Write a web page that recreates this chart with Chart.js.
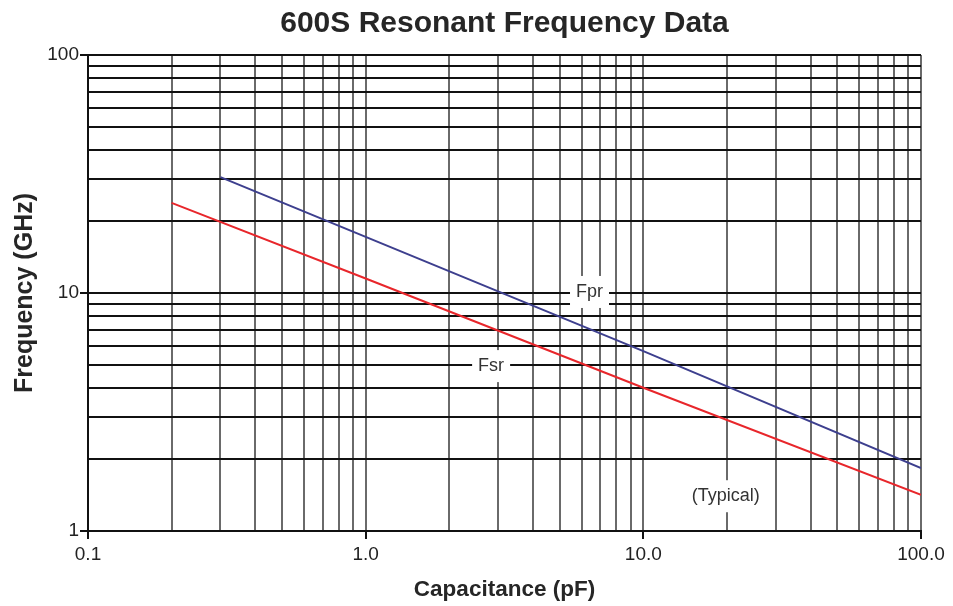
<!DOCTYPE html>
<html><head><meta charset="utf-8">
<script src="https://cdn.jsdelivr.net/npm/chart.js@4/dist/chart.umd.min.js"></script>
<style>html,body{margin:0;padding:0;background:#fff;}#wrap{width:953px;height:606px;}</style>
</head><body><div id="wrap"><canvas id="c" width="953" height="606"></canvas></div>
<script>
const chartTitle = '600S Resonant Frequency Data';
const xAxisTitle = 'Capacitance (pF)';
const yAxisTitle = 'Frequency (GHz)';
const capacitanceFpr = [0.3, 1, 10, 100];
const fpr = [30.7, 17.2, 5.7, 1.84];
const capacitanceFsr = [0.2, 1, 10, 100];
const fsr = [23.9, 11.5, 4.0, 1.42];
const xGridValues = [0.1,0.2,0.3,0.4,0.5,0.6,0.7,0.8,0.9,1,2,3,4,5,6,7,8,9,10,20,30,40,50,60,70,80,90,100];
const xTickValues = [0.1, 1, 10, 100];
const xTickLabels = ['0.1', '1.0', '10.0', '100.0'];
const yGridValues = [1,2,3,4,5,6,7,8,9,10,20,30,40,50,60,70,80,90,100];
const yTickValues = [1, 10, 100];
const yTickLabels = ['1', '10', '100'];
const noteLabels = ['Fpr', 'Fsr', '(Typical)'];
const noteX = [6.4, 2.83, 19.8];
const noteY = [10.1, 4.93, 1.40];

const fam = '"Liberation Sans", Arial, sans-serif';
const tickFont = {family: fam, size: 19};
function labelFor(values, labels, v) {
  for (let i = 0; i < values.length; i++) if (Math.abs(values[i] - v) < 1e-9 * Math.max(1, v)) return labels[i];
  return '';
}
function isDecade(values, v) { return labelFor(values, values.map(String), v) !== ''; }

const notesPlugin = {
  id: 'notes',
  beforeDatasetsDraw(chart) {
    const ctx = chart.ctx, xs = chart.scales.x, ys = chart.scales.y;
    ctx.save();
    ctx.font = '18px ' + fam;
    ctx.textAlign = 'center';
    ctx.textBaseline = 'middle';
    for (let i = 0; i < noteLabels.length; i++) {
      const px = xs.getPixelForValue(noteX[i]);
      const py = ys.getPixelForValue(noteY[i]);
      const w = ctx.measureText(noteLabels[i]).width + 12;
      const h = 32;
      ctx.fillStyle = '#ffffff';
      ctx.fillRect(px - w / 2, py - h / 2, w, h);
      ctx.fillStyle = '#333333';
      ctx.fillText(noteLabels[i], px, py);
    }
    ctx.restore();
  }
};

new Chart(document.getElementById('c'), {
  type: 'scatter',
  data: {
    datasets: [
      {label: 'Fpr', data: capacitanceFpr.map((c, i) => ({x: c, y: fpr[i]})), showLine: true,
       borderColor: '#3d3f8e', borderWidth: 2, pointRadius: 0, tension: 0},
      {label: 'Fsr', data: capacitanceFsr.map((c, i) => ({x: c, y: fsr[i]})), showLine: true,
       borderColor: '#e8262b', borderWidth: 2, pointRadius: 0, tension: 0}
    ]
  },
  plugins: [notesPlugin],
  options: {
    responsive: false,
    animation: false,
    layout: {padding: {left: 0, right: 32, top: 0, bottom: 0}},
    plugins: {
      legend: {display: false},
      tooltip: {enabled: false},
      title: {display: true, text: chartTitle, color: '#262626', fullSize: false,
        font: {family: fam, size: 30, weight: 'bold'},
        padding: {top: 6, bottom: 13}}
    },
    scales: {
      x: {
        type: 'logarithmic', min: 0.1, max: 100,
        afterBuildTicks(s) { s.ticks = xGridValues.map(v => ({value: v})); },
        afterFit(s) { s.height = 75; },
        ticks: {autoSkip: false, maxRotation: 0, minRotation: 0, color: '#222', font: tickFont, padding: 4,
          callback: (v) => labelFor(xTickValues, xTickLabels, v)},
        grid: {color: '#6a6a6a', lineWidth: 2, tickLength: 8,
          tickColor: (c) => isDecade(xTickValues, c.tick ? c.tick.value : 0) ? '#111' : 'rgba(0,0,0,0)'},
        border: {color: '#111', width: 2},
        title: {display: true, text: xAxisTitle, color: '#262626',
          font: {family: fam, size: 22.5, weight: 'bold'}, padding: {top: 0, bottom: 3}}
      },
      y: {
        type: 'logarithmic', min: 1, max: 100,
        afterBuildTicks(s) { s.ticks = yGridValues.map(v => ({value: v})); },
        afterFit(s) { s.width = 88; },
        ticks: {autoSkip: false, color: '#222', font: tickFont, padding: 1,
          callback: (v) => labelFor(yTickValues, yTickLabels, v)},
        grid: {color: '#111', lineWidth: 2, tickLength: 8,
          tickColor: (c) => isDecade(yTickValues, c.tick ? c.tick.value : 0) ? '#111' : 'rgba(0,0,0,0)'},
        border: {color: '#111', width: 2},
        title: {display: true, text: yAxisTitle, color: '#262626',
          font: {family: fam, size: 25, weight: 'bold'}, padding: {top: 10, bottom: 0}}
      }
    }
  }
});
</script></body></html>
